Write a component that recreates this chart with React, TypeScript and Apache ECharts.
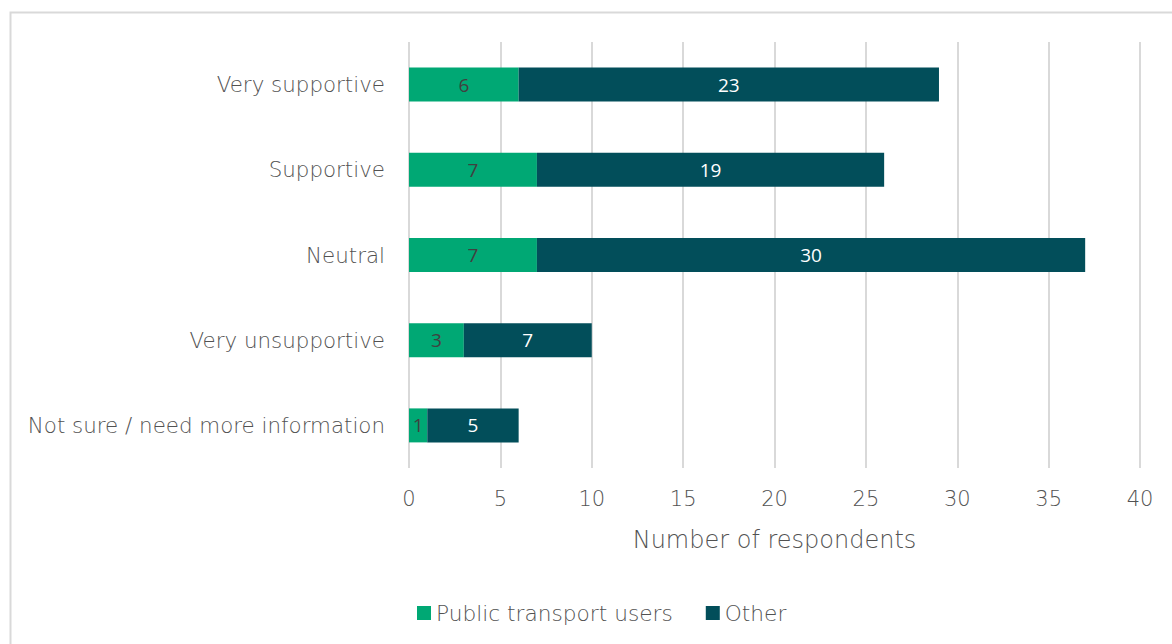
import React, { useEffect, useRef } from "react";
import * as echarts from "echarts";

const categories = [
  "Not sure / need more information",
  "Very unsupportive",
  "Neutral",
  "Supportive",
  "Very supportive",
];
const publicTransportUsers = [1, 3, 7, 7, 6];
const other = [5, 7, 30, 19, 23];
const xTicks = { min: 0, max: 40, interval: 5 };

const FONT = "'DejaVu Sans', sans-serif";
const W = 300;
const TXT = "#525252";

export default function App() {
  const ref = useRef<HTMLDivElement>(null);
  useEffect(() => {
    if (!ref.current) return;
    const chart = echarts.init(ref.current, undefined, { renderer: "svg" });
    chart.setOption({
      animation: false,
      backgroundColor: "#ffffff",
      textStyle: { fontFamily: FONT },
      graphic: [
        {
          type: "rect",
          shape: { x: 10.5, y: 12.5, width: 1300, height: 800 },
          style: { fill: "none", stroke: "#d9d9d9", lineWidth: 2 },
          silent: true,
        },
      ],
      grid: { left: 409, right: 32, top: 42, bottom: 176 },
      legend: {
        left: 412,
        top: 597,
        itemWidth: 14,
        itemHeight: 14,
        itemGap: 33,
        icon: "rect",
        textStyle: { fontSize: 21.7, color: TXT, fontFamily: FONT, fontWeight: W },
        data: ["Public transport users", "Other"],
      },
      xAxis: {
        type: "value",
        min: xTicks.min,
        max: xTicks.max,
        interval: xTicks.interval,
        name: "Number of respondents",
        nameLocation: "middle",
        nameGap: 60,
        nameTextStyle: { fontSize: 24, color: TXT, fontFamily: FONT, fontWeight: W },
        axisLine: { show: false },
        axisTick: { show: false },
        axisLabel: { fontSize: 21, color: TXT, margin: 20, fontFamily: FONT, fontWeight: W },
        splitLine: { lineStyle: { color: "#d9d9d9", width: 2 } },
      },
      yAxis: {
        type: "category",
        data: categories,
        axisLine: { show: false },
        axisTick: { show: false },
        axisLabel: { fontSize: 21.4, color: TXT, margin: 24, fontFamily: FONT, fontWeight: W },
      },
      series: [
        {
          name: "Public transport users",
          type: "bar",
          stack: "total",
          barWidth: 34,
          data: publicTransportUsers,
          itemStyle: { color: "#00a874" },
          label: {
            show: true,
            position: "inside",
            fontSize: 19,
            color: "#404040",
            fontFamily: "'Open Sans', sans-serif",
          },
        },
        {
          name: "Other",
          type: "bar",
          stack: "total",
          barWidth: 34,
          data: other,
          itemStyle: { color: "#024e5a" },
          label: {
            show: true,
            position: "inside",
            fontSize: 19,
            color: "#ffffff",
            fontFamily: "'Open Sans', sans-serif",
          },
        },
      ],
    });
    return () => chart.dispose();
  }, []);
  return (
    <div
      ref={ref}
      style={{ position: "fixed", left: 0, top: 0, width: 1172, height: 644 }}
    />
  );
}
